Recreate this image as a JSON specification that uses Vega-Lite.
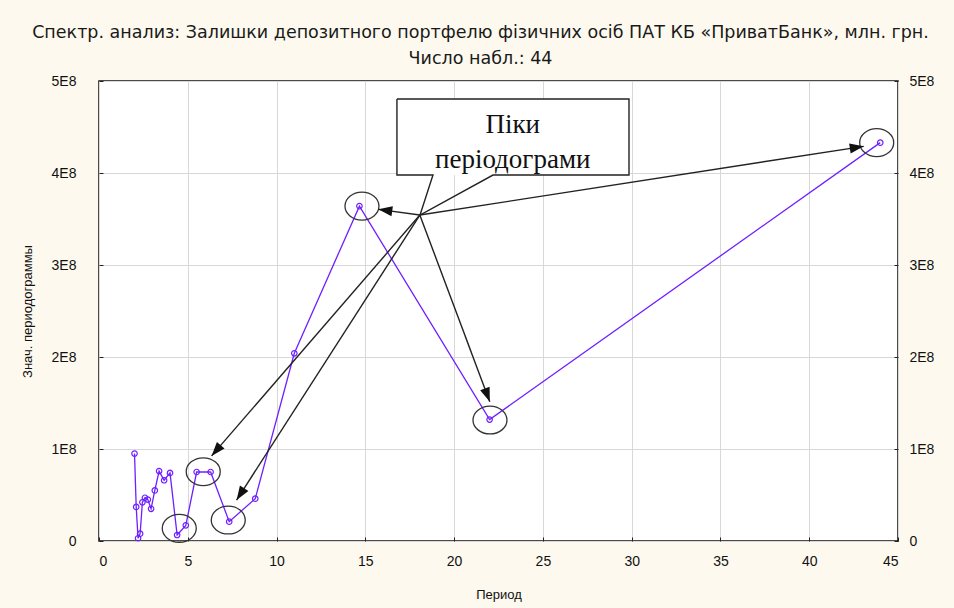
{
  "$schema": "https://vega.github.io/schema/vega-lite/v6.json",
  "autosize": {"type": "none"},
  "padding": {"left": 99, "top": 81, "right": 56, "bottom": 67},
  "width": 799,
  "height": 460,
  "background": "#fdf9ee",
  "config": {
    "view": {"fill": "white", "stroke": "#111", "strokeWidth": 1.5},
    "axis": {
      "labelFont": "Liberation Sans", "labelFontSize": 14, "labelColor": "#111",
      "titleFont": "Liberation Sans", "titleFontSize": 13, "titleFontWeight": "normal", "titleColor": "#111",
      "gridColor": "#d8d8d8", "gridWidth": 1, "domain": false,
      "tickColor": "#222", "tickSize": -4
    }
  },
  "title": {
    "text": ["Спектр. анализ: Залишки депозитного портфелю фізичних осіб  ПАТ КБ «ПриватБанк», млн. грн.", "Число набл.: 44"],
    "font": "DejaVu Sans", "fontSize": 17.5, "fontWeight": "normal", "color": "#1a1a1a",
    "lineHeight": 26, "anchor": "middle", "dx": -18, "offset": -11, "baseline": "bottom"
  },
  "datasets": {
    "pg": [
      {"period": 2.0, "value": 95000000},
      {"period": 2.095, "value": 37000000},
      {"period": 2.2, "value": 3000000},
      {"period": 2.316, "value": 8000000},
      {"period": 2.444, "value": 42000000},
      {"period": 2.588, "value": 47000000},
      {"period": 2.75, "value": 45000000},
      {"period": 2.933, "value": 35000000},
      {"period": 3.143, "value": 55000000},
      {"period": 3.385, "value": 76000000},
      {"period": 3.667, "value": 66000000},
      {"period": 4.0, "value": 74000000},
      {"period": 4.4, "value": 6500000},
      {"period": 4.889, "value": 17000000},
      {"period": 5.5, "value": 75000000},
      {"period": 6.286, "value": 75000000},
      {"period": 7.333, "value": 21000000},
      {"period": 8.8, "value": 46000000},
      {"period": 11.0, "value": 204000000},
      {"period": 14.667, "value": 364000000},
      {"period": 22.0, "value": 132000000},
      {"period": 44.0, "value": 433000000}
    ],
    "circles": [
      {"cx": 43.8, "cy": 433000000},
      {"cx": 14.81, "cy": 364000000},
      {"cx": 22.02, "cy": 131500000},
      {"cx": 5.87, "cy": 75300000},
      {"cx": 7.28, "cy": 22800000},
      {"cx": 4.52, "cy": 13800000}
    ],
    "arrows": [
      {"x": 18.07, "y": 354300000, "x2": 43.07, "y2": 429000000},
      {"x": 18.07, "y": 354300000, "x2": 15.73, "y2": 360500000},
      {"x": 18.07, "y": 354300000, "x2": 22.01, "y2": 151400000},
      {"x": 18.07, "y": 354300000, "x2": 6.34, "y2": 92500000},
      {"x": 18.07, "y": 354300000, "x2": 7.75, "y2": 44500000}
    ],
    "box": [
      {"bx": 16.78, "by": 480400000, "bx2": 29.85, "by2": 397800000}
    ],
    "callout": [
      {"ord": 1, "cx": 16.78, "cy": 480400000},
      {"ord": 2, "cx": 29.85, "cy": 480400000},
      {"ord": 3, "cx": 29.85, "cy": 397800000},
      {"ord": 4, "cx": 22.19, "cy": 397800000},
      {"ord": 5, "cx": 18.08, "cy": 354300000},
      {"ord": 6, "cx": 18.81, "cy": 397800000},
      {"ord": 7, "cx": 16.78, "cy": 397800000},
      {"ord": 8, "cx": 16.78, "cy": 480400000}
    ],
    "labels": [
      {"tx": 23.3, "ty": 452000000, "label": "Піки"},
      {"tx": 23.3, "ty": 414000000, "label": "періодограми"}
    ]
  },
  "resolve": {"scale": {"y": "independent"}},
  "layer": [
    {
      "data": {"name": "pg"},
      "mark": {"type": "line", "color": "#6f1fff", "strokeWidth": 1.3},
      "encoding": {
        "x": {"field": "period", "type": "quantitative", "scale": {"domain": [0, 45], "nice": false, "zero": false},
              "axis": {"title": "Период", "values": [0,5,10,15,20,25,30,35,40,45], "labelPadding": 17, "titleX": 399.5, "titleY": 53, "titleBaseline": "middle"}},
        "y": {"field": "value", "type": "quantitative", "scale": {"domain": [0, 500000000], "nice": false},
              "axis": {"title": "Знач. периодограммы", "orient": "left", "values": [0,100000000,200000000,300000000,400000000,500000000],
                       "labelExpr": "datum.value == 0 ? '0' : format(datum.value/1e8, 'd') + 'E8'",
                       "labelPadding": 27, "titleX": -72, "titleY": 230, "titleBaseline": "middle", "titleAngle": -90}}
      }
    },
    {
      "data": {"name": "pg"},
      "mark": {"type": "point", "shape": "circle", "filled": false, "color": "#6f1fff", "size": 30, "strokeWidth": 1.2, "opacity": 1},
      "encoding": {
        "x": {"field": "period", "type": "quantitative", "scale": {"domain": [0, 45], "nice": false, "zero": false}},
        "y": {"field": "value", "type": "quantitative", "scale": {"domain": [0, 500000000], "nice": false},
              "axis": {"title": null, "orient": "right", "grid": false, "values": [0,100000000,200000000,300000000,400000000,500000000],
                       "labelExpr": "datum.value == 0 ? '0' : format(datum.value/1e8, 'd') + 'E8'",
                       "labelPadding": 15}}
      }
    },
    {
      "data": {"name": "circles"},
      "mark": {"type": "point", "shape": "M -1 0 A 1 0.82 0 1 0 1 0 A 1 0.82 0 1 0 -1 0 Z", "filled": false, "stroke": "#333", "strokeWidth": 1.3, "size": 1156, "opacity": 1},
      "encoding": {
        "x": {"field": "cx", "type": "quantitative", "scale": {"domain": [0, 45], "nice": false, "zero": false}},
        "y": {"field": "cy", "type": "quantitative", "scale": {"domain": [0, 500000000], "nice": false}, "axis": null}
      }
    },
    {
      "data": {"name": "arrows"},
      "mark": {"type": "rule", "color": "#222", "strokeWidth": 1.4},
      "encoding": {
        "x": {"field": "x", "type": "quantitative", "scale": {"domain": [0, 45], "nice": false, "zero": false}},
        "y": {"field": "y", "type": "quantitative", "scale": {"domain": [0, 500000000], "nice": false}, "axis": null},
        "x2": {"field": "x2"},
        "y2": {"field": "y2"}
      }
    },
    {
      "data": {"name": "arrows"},
      "transform": [
        {"calculate": "atan2((datum.x2 - datum.x) * 799 / 45, (datum.y2 - datum.y) * 460 / 500000000) * 180 / PI", "as": "angle"}
      ],
      "mark": {"type": "point", "shape": "M 0 0 L 0.36 1 L -0.36 1 Z", "filled": true, "color": "#111", "size": 784, "opacity": 1},
      "encoding": {
        "x": {"field": "x2", "type": "quantitative", "scale": {"domain": [0, 45], "nice": false, "zero": false}},
        "y": {"field": "y2", "type": "quantitative", "scale": {"domain": [0, 500000000], "nice": false}, "axis": null},
        "angle": {"field": "angle", "type": "quantitative", "scale": null}
      }
    },
    {
      "data": {"name": "box"},
      "mark": {"type": "rect", "fill": "white"},
      "encoding": {
        "x": {"field": "bx", "type": "quantitative", "scale": {"domain": [0, 45], "nice": false, "zero": false}},
        "x2": {"field": "bx2"},
        "y": {"field": "by", "type": "quantitative", "scale": {"domain": [0, 500000000], "nice": false}, "axis": null},
        "y2": {"field": "by2"}
      }
    },
    {
      "data": {"name": "callout"},
      "mark": {"type": "line", "color": "#222", "strokeWidth": 1.4},
      "encoding": {
        "x": {"field": "cx", "type": "quantitative", "scale": {"domain": [0, 45], "nice": false, "zero": false}},
        "y": {"field": "cy", "type": "quantitative", "scale": {"domain": [0, 500000000], "nice": false}, "axis": null},
        "order": {"field": "ord", "type": "quantitative"}
      }
    },
    {
      "data": {"name": "labels"},
      "mark": {"type": "text", "font": "Liberation Serif", "fontSize": 27, "color": "#111", "align": "center", "baseline": "middle"},
      "encoding": {
        "x": {"field": "tx", "type": "quantitative", "scale": {"domain": [0, 45], "nice": false, "zero": false}},
        "y": {"field": "ty", "type": "quantitative", "scale": {"domain": [0, 500000000], "nice": false}, "axis": null},
        "text": {"field": "label"}
      }
    }
  ]
}
